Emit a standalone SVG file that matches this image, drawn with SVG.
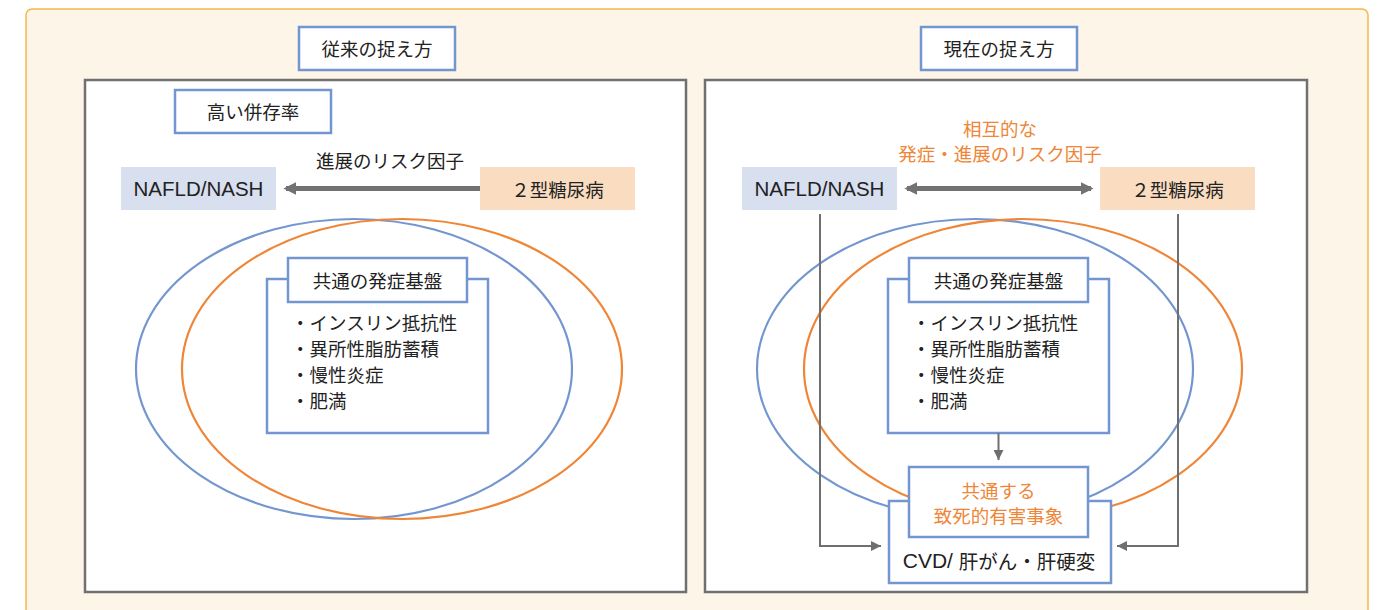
<svg xmlns="http://www.w3.org/2000/svg" width="1379" height="610" viewBox="0 0 1379 610">
<defs>
<style>
.t{font-family:"Noto Sans CJK JP","Liberation Sans",sans-serif;font-size:18.5px;fill:#222;text-anchor:middle;dominant-baseline:central}
.tl{font-family:"Noto Sans CJK JP","Liberation Sans",sans-serif;font-size:18.5px;fill:#222;dominant-baseline:central}
.lat{font-family:"Liberation Sans","Noto Sans CJK JP",sans-serif;font-size:20.5px;fill:#222;text-anchor:middle;dominant-baseline:central}
.or{fill:#ef8536}
.bx{fill:#fff;stroke:#7396d0;stroke-width:2.5}
.panel{fill:#fff;stroke:#707070;stroke-width:2.5}
.eb{fill:none;stroke:#7396d0;stroke-width:2.2}
.eo{fill:none;stroke:#ef8536;stroke-width:2.2}
.conn{fill:none;stroke:#6f6f6f;stroke-width:2}
.thick{fill:none;stroke:#727272;stroke-width:5}
</style>
<marker id="ah" viewBox="0 0 10 10" refX="10" refY="5" markerWidth="5" markerHeight="5" orient="auto-start-reverse" markerUnits="strokeWidth">
<path d="M0,0 L10,5 L0,10 Z" fill="#6f6f6f"/>
</marker>
<marker id="ahb" viewBox="0 0 10 10" refX="8" refY="5" markerWidth="2.6" markerHeight="2.6" orient="auto-start-reverse" markerUnits="strokeWidth">
<path d="M0,0 L10,5 L0,10 Z" fill="#727272"/>
</marker>
</defs>

<rect x="26" y="9" width="1342" height="620" rx="6" fill="#fdf5e8" stroke="#f5b64a" stroke-width="1.5"/>

<g id="panel-left">
<rect class="panel" x="85" y="80" width="601" height="512"/>
</g>
<g id="panel-right">
<rect class="panel" x="705" y="80" width="602" height="512"/>
</g>

<g id="title-left"><rect class="bx" x="299" y="27" width="156" height="43"/><text class="t" x="377" y="48">従来の捉え方</text></g>
<g id="title-right"><rect class="bx" x="921" y="27" width="156" height="43"/><text class="t" x="999" y="48">現在の捉え方</text></g>

<g id="comorbid"><rect class="bx" x="175" y="90" width="156" height="43"/><text class="t" x="253" y="111">高い併存率</text></g>

<g id="ellipses-left">
<ellipse class="eb" cx="354" cy="369" rx="218" ry="150"/>
<ellipse class="eo" cx="402" cy="369" rx="220" ry="150"/>
</g>
<g id="ellipses-right">
<ellipse class="eb" cx="975" cy="369" rx="218" ry="150"/>
<ellipse class="eo" cx="1023" cy="369" rx="219" ry="150"/>
</g>

<g id="nafld-left"><rect x="121" y="167" width="155" height="43" fill="#d8dfef"/><text class="lat" x="198.5" y="188.5">NAFLD/NASH</text></g>
<g id="dm-left"><rect x="480" y="167" width="155" height="43" fill="#fadcc0"/><text class="t" x="557.5" y="188.5">２型糖尿病</text></g>
<g id="risk-left-label"><text class="t" x="390" y="160">進展のリスク因子</text></g>

<g id="nafld-right"><rect x="742" y="167" width="155" height="43" fill="#d8dfef"/><text class="lat" x="819.5" y="188.5">NAFLD/NASH</text></g>
<g id="dm-right"><rect x="1100" y="167" width="155" height="43" fill="#fadcc0"/><text class="t" x="1177.5" y="188.5">２型糖尿病</text></g>
<g id="risk-right-label"><text class="t or" x="1000" y="128">相互的な</text><text class="t or" x="1000" y="153">発症・進展のリスク因子</text></g>

<g id="basis-left">
<rect class="bx" x="267" y="279" width="221" height="154"/>
<rect class="bx" x="288" y="258" width="179" height="44"/>
<text class="t" x="377.5" y="280">共通の発症基盤</text>
<text class="tl" x="291" y="322">・インスリン抵抗性</text>
<text class="tl" x="291" y="348">・異所性脂肪蓄積</text>
<text class="tl" x="291" y="374">・慢性炎症</text>
<text class="tl" x="291" y="400">・肥満</text>
</g>

<g id="basis-right">
<rect class="bx" x="888" y="279" width="221" height="154"/>
<rect class="bx" x="909" y="258" width="179" height="44"/>
<text class="t" x="998.5" y="280">共通の発症基盤</text>
<text class="tl" x="912" y="322">・インスリン抵抗性</text>
<text class="tl" x="912" y="348">・異所性脂肪蓄積</text>
<text class="tl" x="912" y="374">・慢性炎症</text>
<text class="tl" x="912" y="400">・肥満</text>
</g>

<g id="outcome">
<rect class="bx" x="889" y="501" width="222" height="82"/>
<rect class="bx" x="909" y="467" width="179" height="70"/>
<text class="t or" x="998.5" y="490">共通する</text>
<text class="t or" x="998.5" y="515">致死的有害事象</text>
<text class="t" x="999" y="560" style="font-size:19.5px"><tspan style="font-family:'Liberation Sans',sans-serif;font-size:21px">CVD/ </tspan>肝がん・肝硬変</text>
</g>

<g id="connectors">
<line class="thick" x1="480" y1="188.5" x2="286" y2="188.5" marker-end="url(#ahb)"/>
<line class="thick" x1="907" y1="188.5" x2="1091" y2="188.5" marker-start="url(#ahb)" marker-end="url(#ahb)"/>
<line class="conn" x1="998.5" y1="433" x2="998.5" y2="460" marker-end="url(#ah)"/>
<polyline class="conn" points="820,214 820,546 881,546" marker-end="url(#ah)"/>
<polyline class="conn" points="1178,214 1178,546 1117,546" marker-end="url(#ah)"/>
</g>
</svg>
